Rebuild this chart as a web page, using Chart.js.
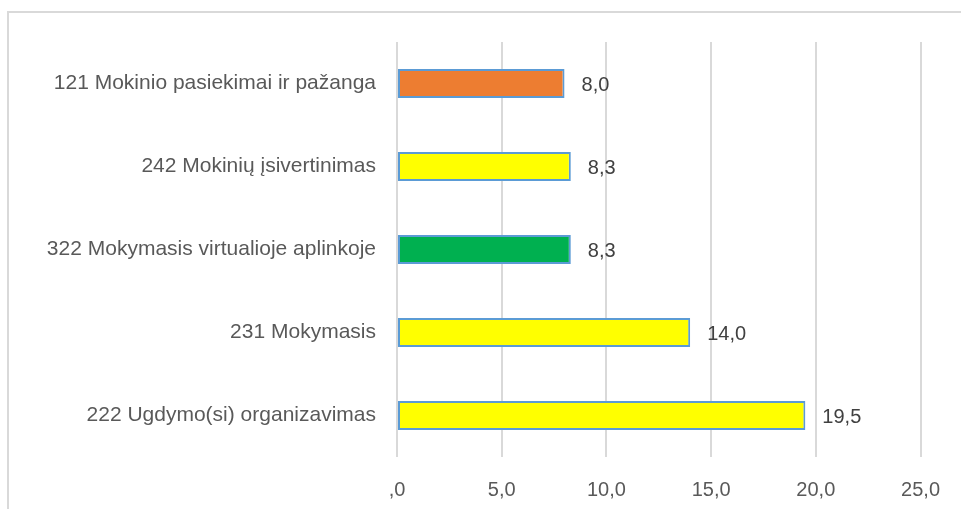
<!DOCTYPE html>
<html>
<head>
<meta charset="utf-8">
<script src="https://cdn.jsdelivr.net/npm/chart.js@4/dist/chart.umd.min.js"></script>
<style>
  html, body { margin: 0; padding: 0; background: #fff; overflow: hidden; }
  #wrap { position: relative; width: 961px; height: 509px; }
</style>
</head>
<body>
<div id="wrap"><canvas id="chart" width="961" height="509"></canvas></div>
<script>
// chart data
var categories = ['121 Mokinio pasiekimai ir pažanga', '242 Mokinių įsivertinimas', '322 Mokymasis virtualioje aplinkoje', '231 Mokymasis', '222 Ugdymo(si) organizavimas'];
var values = [8.0, 8.3, 8.3, 14.0, 19.5];
var barColors = ['#ED7D31', '#FFFF00', '#00B050', '#FFFF00', '#FFFF00'];
var xTicks = [0, 5, 10, 15, 20, 25];

var fontFam = '"Liberation Sans", Arial, sans-serif';

function fmt(v) {
    if (v === 0) return ',0';
    return v.toFixed(1).replace('.', ',');
}

// frame around the chart (cut off at right and bottom like the original)
var framePlugin = {
    id: 'frame',
    beforeDraw: function(chart) {
        var ctx = chart.ctx;
        ctx.save();
        ctx.strokeStyle = '#d9d9d9';
        ctx.lineWidth = 2;
        ctx.beginPath();
        ctx.moveTo(8, 509);
        ctx.lineTo(8, 12);
        ctx.lineTo(961, 12);
        ctx.stroke();
        ctx.restore();
    }
};

// value labels next to bars
var valueLabels = {
    id: 'valueLabels',
    afterDatasetsDraw: function(chart) {
        var ctx = chart.ctx;
        var meta = chart.getDatasetMeta(0);
        ctx.save();
        ctx.font = '20px ' + fontFam;
        ctx.fillStyle = '#404040';
        ctx.textAlign = 'left';
        ctx.textBaseline = 'middle';
        meta.data.forEach(function(bar, i) {
            ctx.fillText(fmt(values[i]), bar.x + 17, bar.y + 2);
        });
        ctx.restore();
    }
};

new Chart(document.getElementById('chart'), {
    type: 'bar',
    data: {
        labels: categories,
        datasets: [{
            data: values,
            backgroundColor: barColors,
            borderColor: '#5B9BD5',
            borderWidth: 2,
            borderSkipped: false,
            barPercentage: 0.35,
            categoryPercentage: 1.0
        }]
    },
    options: {
        indexAxis: 'y',
        responsive: false,
        animation: false,
        events: [],
        layout: { padding: { top: 42, right: 35, left: 0, bottom: 0 } },
        plugins: {
            legend: { display: false },
            tooltip: { enabled: false }
        },
        scales: {
            x: {
                min: 0,
                max: 25,
                afterBuildTicks: function(scale) {
                    scale.ticks = xTicks.map(function(v) { return { value: v }; });
                },
                afterFit: function(scale) { scale.height = 52; },
                grid: { color: '#d9d9d9', lineWidth: 2, drawTicks: false },
                border: { display: false },
                ticks: {
                    padding: 21,
                    color: '#595959',
                    font: { family: fontFam, size: 20 },
                    callback: function(v) { return fmt(v); }
                }
            },
            y: {
                afterFit: function(scale) { scale.width = 397; },
                grid: { display: false, drawTicks: false },
                border: { display: false },
                ticks: {
                    padding: 21,
                    color: '#595959',
                    font: { family: fontFam, size: 21 }
                }
            }
        }
    },
    plugins: [framePlugin, valueLabels]
});
</script>
</body>
</html>
